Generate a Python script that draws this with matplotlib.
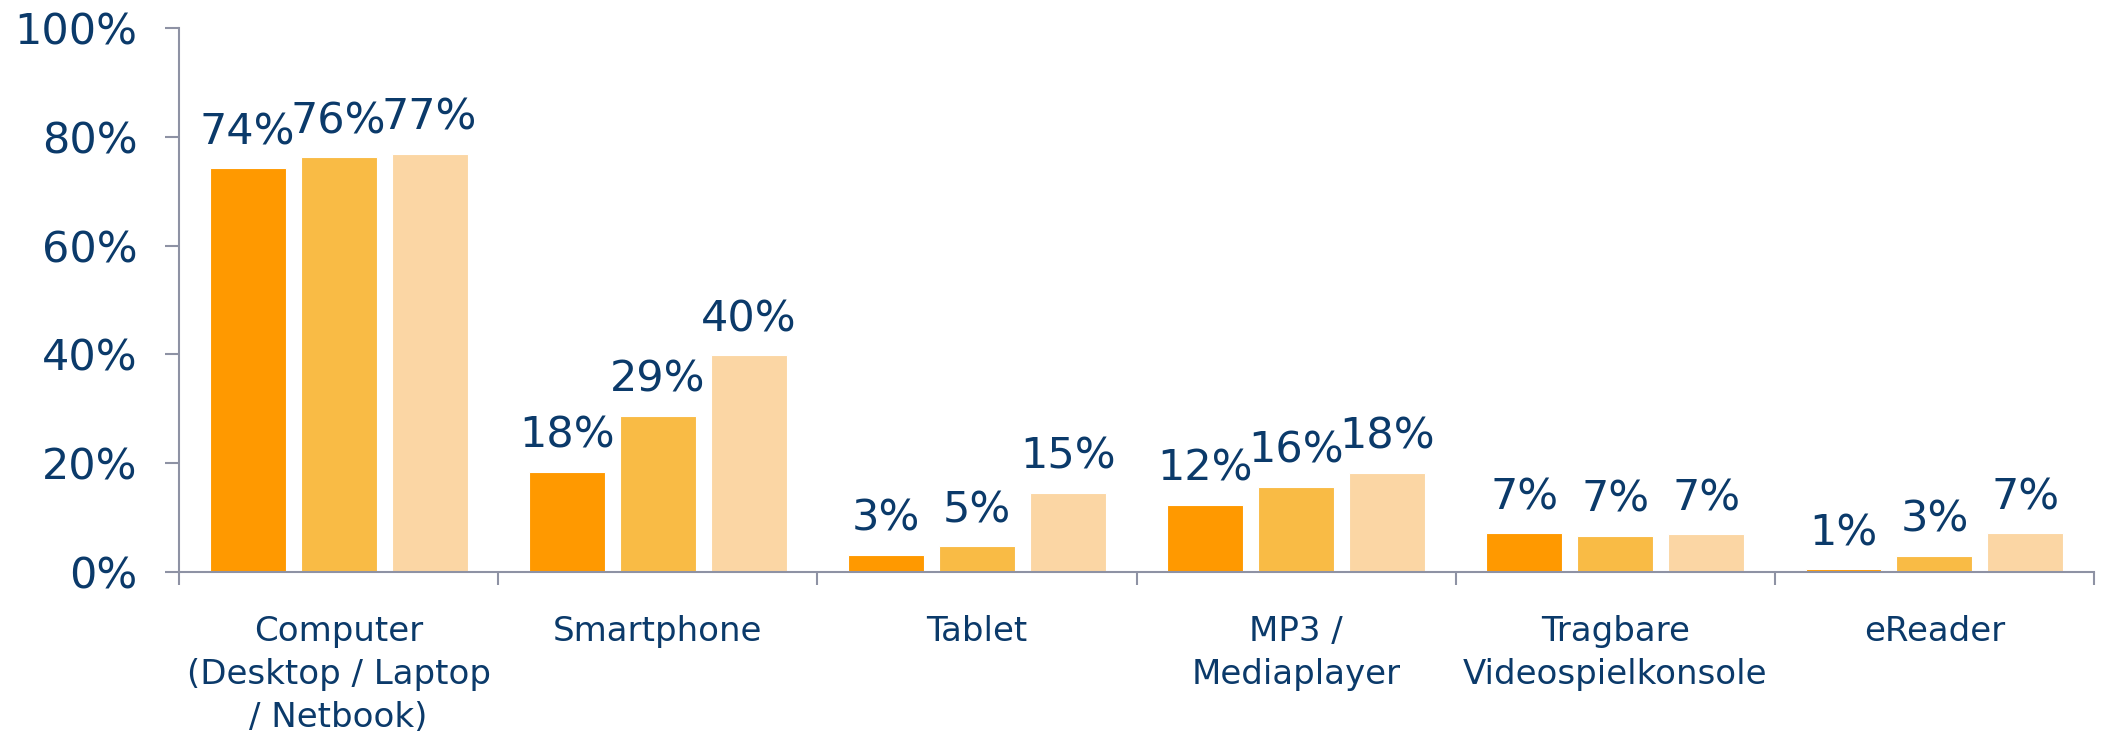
import numpy as np
import matplotlib
matplotlib.use("Agg")
import matplotlib.pyplot as plt

# data
categories = ["Computer\n(Desktop / Laptop\n/ Netbook)", "Smartphone", "Tablet",
              "MP3 /\nMediaplayer", "Tragbare\nVideospielkonsole", "eReader"]
series_a = [74.2, 18.4, 3.2, 12.3, 7.1, 0.5]
series_b = [76.2, 28.7, 4.7, 15.7, 6.6, 2.9]
series_c = [76.9, 39.8, 14.5, 18.2, 6.9, 7.1]
labels_a = ["74%", "18%", "3%", "12%", "7%", "1%"]
labels_b = ["76%", "29%", "5%", "16%", "7%", "3%"]
labels_c = ["77%", "40%", "15%", "18%", "7%", "7%"]
y_ticks = [0, 20, 40, 60, 80, 100]

colors = ["#FF9900", "#F9BB45", "#FBD6A4"]
text_col = "#0B3A6A"
axis_col = "#8E92A4"

fig = plt.figure(figsize=(21.01, 7.31), dpi=100)
ax = fig.add_axes([0.0852, 0.2175, 0.9115, 0.7442])

x = np.arange(len(categories))
width = 0.238
pitch = 0.285

for i, (vals, labs) in enumerate([(series_a, labels_a), (series_b, labels_b), (series_c, labels_c)]):
    pos = x + (i - 1) * pitch
    ax.bar(pos, vals, width, color=colors[i], edgecolor="white", linewidth=0.8)
    for px, v, t in zip(pos, vals, labs):
        ax.annotate(t, (px, v), xytext=(0, 11), textcoords="offset points",
                    ha="center", va="bottom", fontsize=31, color=text_col)

ax.set_xlim(-0.5, len(categories) - 0.5)
ax.set_ylim(0, 100)
ax.set_yticks(y_ticks)
ax.set_yticklabels([f"{t}%" for t in y_ticks])
ax.set_xticks(x)
ax.set_xticklabels(categories, fontsize=24.5, color=text_col, linespacing=1.38)
ax.set_xticks(np.arange(len(categories) + 1) - 0.5, minor=True)

ax.tick_params(axis="y", length=10, width=1.5, color=axis_col, labelsize=31,
               labelcolor=text_col, pad=20)
ax.tick_params(axis="x", which="major", length=0, pad=31)
ax.tick_params(axis="x", which="minor", length=9, width=1.5, color=axis_col)

for s in ["top", "right"]:
    ax.spines[s].set_visible(False)
for s in ["left", "bottom"]:
    ax.spines[s].set_color(axis_col)
    ax.spines[s].set_linewidth(1.5)

fig.savefig("out.png", dpi=100)
